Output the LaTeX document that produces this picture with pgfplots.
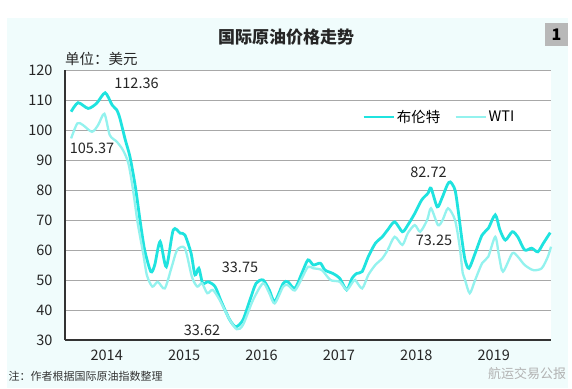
\documentclass[border=0pt]{standalone}
\usepackage{fontspec}
\setmainfont{Noto Sans CJK SC}
\usepackage{pgfplots}
\pgfplotsset{compat=1.18}
\definecolor{bgcyan}{HTML}{F0FCFC}
\definecolor{brent}{HTML}{1FE3DF}
\definecolor{wti}{HTML}{93F2EE}
\definecolor{gridg}{HTML}{A8A8A8}
\begin{document}
\begin{tikzpicture}[x=1pt,y=1pt]
\useasboundingbox (0,0) rectangle (572,388);
\fill[bgcyan] (7,0) rectangle (568,370);
\begin{axis}[
  at={(65pt,48pt)}, anchor=south west,
  width=486pt, height=270pt, scale only axis,
  xmin=2013.961, xmax=2020.240, ymin=30, ymax=120,
  axis background/.style={fill=white},
  axis lines=left,
  axis line style={-, draw=black!80, line width=1.1pt},
  ymajorgrids, grid style={gridg, line width=0.9pt},
  ytick={30,40,...,120},
  xtick={2014.5,2015.5,2016.5,2017.5,2018.5,2019.5},
  xticklabels={2014,2015,2016,2017,2018,2019},
  major tick length=0pt,
  tick label style={font=\fontsize{14.5}{17}\selectfont, text=black!85},
  /pgf/number format/assume math mode=true,
  yticklabel style={anchor=east, xshift=-9pt},
  xticklabel style={yshift=-6pt},
  legend style={draw=none, fill=none, at={(0.611,0.826)}, anchor=west, inner sep=0pt,
    font=\fontsize{14.5}{17}\selectfont, legend columns=2,
    /tikz/every even column/.append style={column sep=12pt}},
  legend image code/.code={\draw[#1] (0pt,0pt) -- (30pt,0pt);},
  legend cell align=left,
  clip=false,
]
\addplot[brent, line width=2.8pt, smooth, tension=0.45] coordinates {
(2014.04,106.1) (2014.13,109.1) (2014.26,107.2) (2014.37,108.9) (2014.48,112.4)
(2014.57,108.3) (2014.63,106.7) (2014.67,103.9) (2014.74,96.7) (2014.80,91.1)
(2014.87,81.1) (2014.93,70.0) (2014.99,60.0) (2015.07,52.8) (2015.12,55.0)
(2015.19,62.8) (2015.27,54.4) (2015.36,66.7) (2015.45,65.6) (2015.51,65.0)
(2015.59,58.9) (2015.64,51.7) (2015.69,53.9) (2015.74,48.9) (2015.81,49.4)
(2015.90,47.8) (2015.98,42.8) (2016.09,36.7) (2016.17,34.4) (2016.26,36.7)
(2016.35,43.3) (2016.43,48.9) (2016.52,50.0) (2016.60,46.7) (2016.67,42.8)
(2016.78,48.9) (2016.84,49.4) (2016.93,47.2) (2017.02,52.2) (2017.10,56.7)
(2017.17,55.0) (2017.26,55.6) (2017.32,53.3) (2017.42,52.2) (2017.51,50.6)
(2017.60,46.7) (2017.67,50.6) (2017.73,52.2) (2017.80,52.8) (2017.88,57.8)
(2017.97,62.2) (2018.06,64.4) (2018.13,66.7) (2018.22,69.4) (2018.32,66.1)
(2018.39,68.3) (2018.48,72.2) (2018.57,76.7) (2018.65,78.9) (2018.69,80.6)
(2018.77,74.4) (2018.83,77.2) (2018.90,81.7) (2018.94,82.7) (2019.00,80.0)
(2019.04,73.3) (2019.09,63.3) (2019.13,56.7) (2019.18,53.9) (2019.26,58.9)
(2019.35,65.0) (2019.43,67.2) (2019.52,71.7) (2019.58,66.7) (2019.65,63.3)
(2019.74,66.1) (2019.81,64.4) (2019.90,60.0) (2019.99,60.6) (2020.07,59.4)
(2020.14,62.2) (2020.23,65.8)
};
\addlegendentry{布伦特}
\addplot[wti, line width=2.3pt, smooth, tension=0.45] coordinates {
(2014.04,97.2) (2014.12,102.2) (2014.19,101.7) (2014.31,99.4) (2014.39,101.7)
(2014.47,105.4) (2014.54,98.3) (2014.63,96.1) (2014.71,93.3) (2014.78,88.9)
(2014.84,80.0) (2014.90,69.0) (2014.97,59.0) (2015.02,51.5) (2015.09,47.8)
(2015.16,49.4) (2015.25,47.2) (2015.34,54.4) (2015.41,60.0) (2015.51,60.6)
(2015.60,51.1) (2015.67,47.8) (2015.73,48.9) (2015.80,45.6) (2015.87,46.7)
(2015.96,43.3) (2016.09,36.7) (2016.18,33.6) (2016.26,35.0) (2016.39,43.3)
(2016.52,48.9) (2016.60,45.6) (2016.67,42.2) (2016.78,47.8) (2016.84,48.3)
(2016.93,46.5) (2017.02,50.5) (2017.10,54.4) (2017.17,53.9) (2017.28,53.3)
(2017.39,50.0) (2017.51,49.4) (2017.60,46.7) (2017.67,49.0) (2017.71,50.0)
(2017.80,47.2) (2017.88,51.7) (2017.97,55.0) (2018.06,57.2) (2018.13,60.0)
(2018.22,64.4) (2018.32,61.7) (2018.39,65.6) (2018.48,68.3) (2018.55,66.1)
(2018.64,70.0) (2018.69,73.9) (2018.78,68.3) (2018.84,70.0) (2018.91,73.9)
(2019.00,70.0) (2019.06,61.1) (2019.10,52.2) (2019.13,50.0) (2019.19,45.6)
(2019.26,50.0) (2019.35,55.6) (2019.43,57.8) (2019.52,64.4) (2019.57,57.8)
(2019.62,52.8) (2019.74,58.9) (2019.81,57.8) (2019.90,55.0) (2020.01,53.3)
(2020.12,53.9) (2020.20,57.8) (2020.24,61.1)
};
\addlegendentry{WTI}
\end{axis}
% annotations
\begin{scope}[every node/.style={font=\fontsize{14.5}{17}\selectfont, text=black!85, inner sep=0pt}]
\node at (136.5,305) {112.36};
\node at (92,240) {105.37};
\node at (202,58) {33.62};
\node at (240,121) {33.75};
\node at (428.5,216) {82.72};
\node at (434,148) {73.25};
\node[anchor=west] at (65,329) {单位：美元};
\end{scope}
\node[font=\fontsize{17}{20}\selectfont\bfseries, text=black!85] at (286,351) {国际原油价格走势};
\fill[black!28] (545,342) rectangle (568,365);
\node[font=\fontsize{16}{18}\selectfont\bfseries] at (556.5,353.5) {1};
\node[anchor=west, font=\fontsize{11}{13}\selectfont, text=black!80] at (5,12) {注：作者根据国际原油指数整理};
\node[anchor=west, font=\fontsize{13}{15}\selectfont, text=black!30, inner sep=0pt] at (488,14) {航运交易公报};
\end{tikzpicture}
\end{document}
